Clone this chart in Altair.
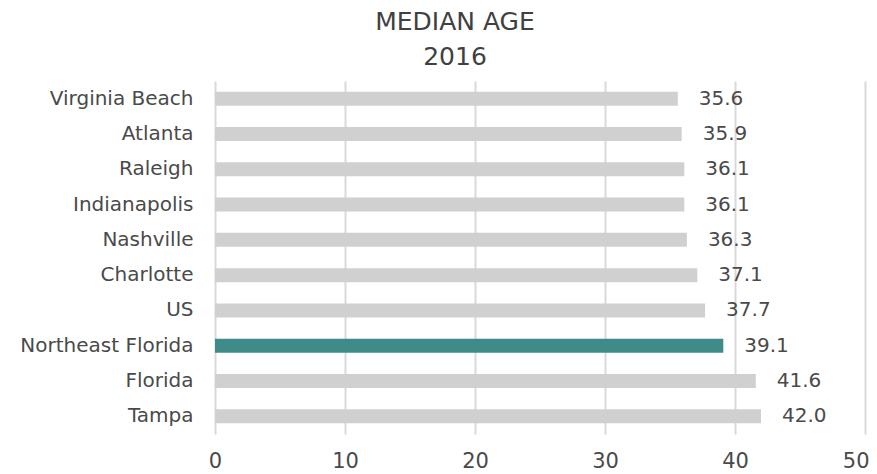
import altair as alt
import pandas as pd

places = ["Virginia Beach", "Atlanta", "Raleigh", "Indianapolis", "Nashville",
          "Charlotte", "US", "Northeast Florida", "Florida", "Tampa"]
median_age = [35.6, 35.9, 36.1, 36.1, 36.3, 37.1, 37.7, 39.1, 41.6, 42.0]
highlight = "Northeast Florida"

df = pd.DataFrame({"place": places, "age": median_age})
df["label"] = df["age"].map(lambda v: f"{v:.1f}")
df["hl"] = df["place"].eq(highlight)

FONT = "DejaVu Sans"
TXT = "#4a4a4a"

base = alt.Chart(df).encode(
    y=alt.Y("place:N", sort=places, title=None,
            scale=alt.Scale(paddingInner=0.6, paddingOuter=0.3),
            axis=alt.Axis(domain=False, ticks=False, labelFontSize=20,
                          labelFont=FONT, labelColor=TXT, labelPadding=22,
                          minExtent=207, maxExtent=207)),
)

bars = base.mark_bar(size=14).encode(
    x=alt.X("age:Q", title=None,
            scale=alt.Scale(domain=[0, 50], nice=False),
            axis=alt.Axis(values=[0, 10, 20, 30, 40, 50], domain=False, ticks=False,
                          grid=True, gridColor="#d9d9d9", gridWidth=2,
                          labelFontSize=21, labelFont=FONT, labelColor=TXT,
                          labelPadding=16, labelFlush=False,
                          labelAlign={"condition": {"test": "datum.value == 50",
                                                    "value": "right"},
                                      "value": "center"},
                          labelOffset={"condition": {"test": "datum.value == 50",
                                                     "value": 4},
                                       "value": 0})),
    color=alt.Color("hl:N", scale=alt.Scale(domain=[False, True],
                                            range=["#d0d0d0", "#3e8b8a"]),
                    legend=None),
)

labels = base.mark_text(align="left", baseline="middle", dx=21, fontSize=20,
                        font=FONT, color=TXT).encode(
    x=alt.X("age:Q"),
    text="label:N",
)

chart = (bars + labels).properties(
    width=650, height=353,
    padding={"left": 0, "top": 2, "right": 0, "bottom": 0},
    title=alt.TitleParams(["MEDIAN AGE", "2016"], fontSize=25, font=FONT,
                          fontWeight="normal", color="#404040",
                          lineHeight=35, anchor="middle", dx=-85, offset=11),
).configure_view(stroke=None)

chart.save("out.html", embed_options={"renderer": "svg", "actions": False})
